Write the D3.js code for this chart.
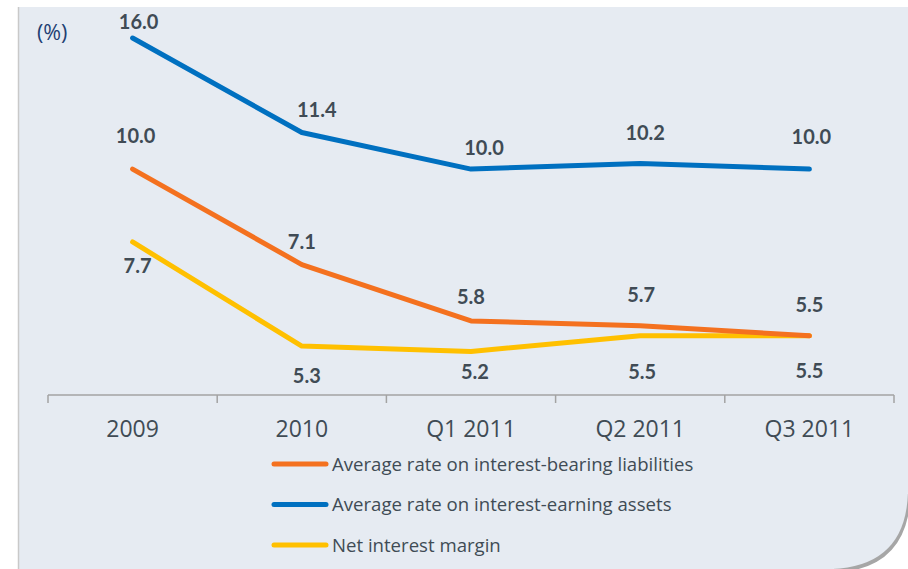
<!DOCTYPE html>
<html>
<head>
<meta charset="utf-8">
<script src="https://cdn.jsdelivr.net/npm/d3@7"></script>
<style>
	body { margin: 0; background: #fff; }
	svg { display: block; font-family: Lato, "Open Sans", sans-serif; }
</style>
</head>
<body>
<svg id="chart" width="908" height="569"></svg>
<script>
// categories and series
var periods = ['2009', '2010', 'Q1 2011', 'Q2 2011', 'Q3 2011'];
var liabilities = [10.0, 7.1, 5.8, 5.7, 5.5];
var assets = [16.0, 11.4, 10.0, 10.2, 10.0];
var margin = [7.7, 5.3, 5.2, 5.5, 5.5];
var seriesNames = [
	'Average rate on interest-bearing liabilities',
	'Average rate on interest-earning assets',
	'Net interest margin'
];

// hand-placed data labels in the original: nudges from the point, px
var liabNudge = [[3, -33], [0, -23], [0, -24], [1, -31], [0, -31]];
var assetNudge = [[6, -16], [15, -23], [13, -21], [5, -31], [2, -32]];
var marginNudge = [[5, 24], [5, 30], [4, 20], [2, 36], [0, 35]];

var svg = d3.select('#chart');
var W = 908, H = 569;

// panel with the curled bottom-right corner
var panel = 'M18,7 H908 V492 Q906,566 832,569 H18 Z';
svg.append('path')
	.attr('d', 'M834,569 Q905,566 907,494')
	.attr('fill', 'none')
	.attr('stroke', '#a6a6a6')
	.attr('stroke-width', 7);
svg.append('path').attr('d', panel).attr('fill', '#e6ebf2');
svg.append('line')
	.attr('x1', 18.5).attr('x2', 18.5).attr('y1', 7).attr('y2', H)
	.attr('stroke', '#c9c9c9').attr('stroke-width', 1.5);

// scales (value axis is logarithmic)
var x = d3.scaleBand().domain(periods).range([48, 894]).padding(0);
var y = d3.scaleLog().domain([4, 16]).range([424.6, 38]);
var cx = (d) => x(d) + x.bandwidth() / 2;

// category axis
var axisY = 395;
var g = svg.append('g').attr('transform', 'translate(0,' + axisY + ')');
g.append('line')
	.attr('x1', 48).attr('x2', 894)
	.attr('stroke', '#a3a3a3').attr('stroke-width', 1.5);
var edges = periods.map((p) => x(p)).concat([x.range()[1]]);
g.selectAll('.tick').data(edges).enter().append('line')
	.attr('x1', (d) => d).attr('x2', (d) => d)
	.attr('y1', 0).attr('y2', 8)
	.attr('stroke', '#a3a3a3').attr('stroke-width', 1.5);
g.selectAll('.lab').data(periods).enter().append('text')
	.attr('x', cx)
	.attr('y', 42)
	.attr('text-anchor', 'middle')
	.attr('font-family', '"Open Sans", sans-serif')
	.attr('font-size', 23)
	.attr('fill', '#404b55')
	.text((d) => d);

svg.append('text')
	.attr('x', 37).attr('y', 40)
	.attr('font-family', '"Open Sans", sans-serif')
	.attr('font-size', 21.5)
	.attr('fill', '#1f3f73')
	.text('(%)');

// lines
var series = [
	{ name: seriesNames[0], values: liabilities, color: '#f4711f', nudge: liabNudge },
	{ name: seriesNames[1], values: assets, color: '#0070c0', nudge: assetNudge },
	{ name: seriesNames[2], values: margin, color: '#ffc000', nudge: marginNudge }
];

var line = d3.line()
	.x((d, i) => cx(periods[i]))
	.y((d) => y(d));

// draw order: margin, liabilities, assets
[2, 0, 1].forEach((k) => {
	var s = series[k];
	svg.append('path')
		.attr('d', line(s.values))
		.attr('fill', 'none')
		.attr('stroke', s.color)
		.attr('stroke-width', 5)
		.attr('stroke-linecap', 'round')
		.attr('stroke-linejoin', 'round');
});

series.forEach((s) => {
	svg.append('g').selectAll('text').data(s.values).enter().append('text')
		.attr('x', (d, i) => cx(periods[i]) + s.nudge[i][0])
		.attr('y', (d, i) => y(d) + s.nudge[i][1])
		.attr('dy', '0.36em')
		.attr('text-anchor', 'middle')
		.attr('font-size', 20)
		.attr('font-weight', 'bold')
		.attr('fill', '#404b55')
		.text((d) => d.toFixed(1));
});

// legend
var leg = svg.append('g').attr('transform', 'translate(272,464)');
var rows = leg.selectAll('g').data(series).enter().append('g')
	.attr('transform', (d, i) => 'translate(0,' + (i * 40.5) + ')');
rows.append('line')
	.attr('x1', 2).attr('x2', 54)
	.attr('stroke', (d) => d.color)
	.attr('stroke-width', 5)
	.attr('stroke-linecap', 'round');
rows.append('text')
	.attr('x', 60)
	.attr('dy', '0.35em')
	.attr('font-family', '"Open Sans", sans-serif')
	.attr('font-size', 18.6)
	.attr('fill', '#404b55')
	.text((d) => d.name);
</script>
</body>
</html>
